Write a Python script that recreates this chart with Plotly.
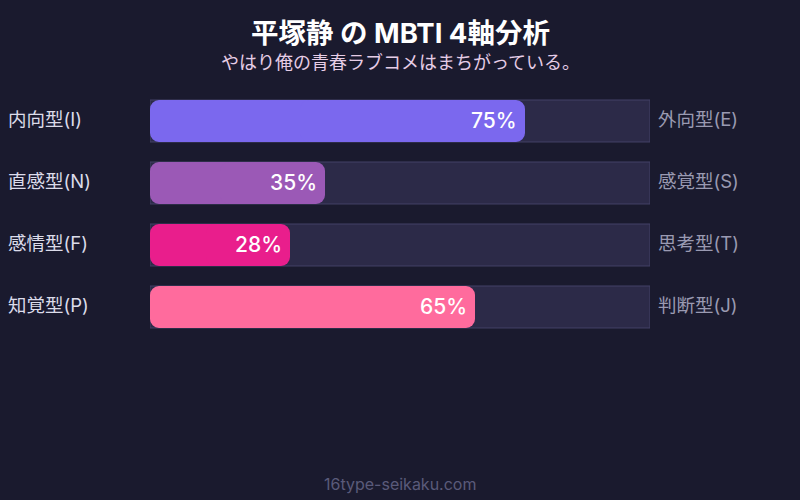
import plotly.graph_objects as go

left_labels = ["内向型(I)", "直感型(N)", "感情型(F)", "知覚型(P)"]
right_labels = ["外向型(E)", "感覚型(S)", "思考型(T)", "判断型(J)"]
values = [75, 35, 28, 65]
colors = ["#7b68ee", "#9b59b6", "#e91e8c", "#ff6b9d"]
title = "平塚静 の MBTI 4軸分析"
subtitle = "やはり俺の青春ラブコメはまちがっている。"
footer = "16type-seikaku.com"

FONT = "Inter, 'Noto Sans CJK JP', sans-serif"
BG = "#1a1a2e"
TRACK = "#2c2a48"
TRACK_LINE = "#434166"
W, H = 800, 500
ML, MR, MT, MB = 150, 150, 90, 162
plot_h = H - MT - MB
plot_w = W - ML - MR

ys = list(range(len(values)))
fig = go.Figure()

# track
fig.add_trace(go.Bar(
    y=ys, x=[100] * len(values), orientation="h", width=0.677,
    marker=dict(color=TRACK, line=dict(color=TRACK_LINE, width=1), cornerradius=0),
    hoverinfo="skip", showlegend=False,
))
# left rounded half
fig.add_trace(go.Bar(
    y=ys, x=[-v * 0.6 for v in values], base=[v * 0.6 for v in values],
    orientation="h", width=0.677,
    marker=dict(color=colors, line=dict(width=0), cornerradius=9),
    hoverinfo="skip", showlegend=False,
))
# right rounded half
fig.add_trace(go.Bar(
    y=ys, x=[v * 0.6 for v in values], base=[v * 0.4 for v in values],
    orientation="h", width=0.677,
    marker=dict(color=colors, line=dict(width=0), cornerradius=9),
    hoverinfo="skip", showlegend=False,
))

ann = []
for i, (l, r, v) in enumerate(zip(left_labels, right_labels, values)):
    ann.append(dict(x=-ML / plot_w, xref="paper", y=i, yref="y", text=l, showarrow=False,
                    xanchor="left", xshift=6, yshift=2,
                    font=dict(size=18.5, color="#dcdcea", family=FONT)))
    ann.append(dict(x=1, xref="paper", y=i, yref="y", text=r, showarrow=False,
                    xanchor="left", xshift=6, yshift=2,
                    font=dict(size=18.5, color="#9a9ab2", family=FONT)))
    ann.append(dict(x=v, xref="x", y=i, yref="y", text=f"{v}%", showarrow=False,
                    xanchor="right", xshift=-6, yshift=1,
                    font=dict(size=21, color="#ffffff", family=FONT, weight=500)))

ann.append(dict(x=0.5, xref="paper", y=(H - MB - 33) / plot_h, yref="paper", text=title,
                showarrow=False, xanchor="center", yanchor="middle",
                font=dict(size=27.5, color="#ffffff", family=FONT, weight=700)))
ann.append(dict(x=0.5, xref="paper", y=(H - MB - 62) / plot_h, yref="paper", text=subtitle,
                showarrow=False, xanchor="center", yanchor="middle",
                font=dict(size=18, color="#e6cde6", family=FONT)))
ann.append(dict(x=0.5, xref="paper", y=(H - MB - 484) / plot_h, yref="paper", text=footer,
                showarrow=False, xanchor="center", yanchor="middle",
                font=dict(size=16, color="#5a5a7a", family=FONT)))

fig.update_layout(
    width=W, height=H, paper_bgcolor=BG, plot_bgcolor=BG,
    margin=dict(l=ML, r=MR, t=MT, b=MB),
    barmode="overlay",
    xaxis=dict(range=[0, 100], visible=False, fixedrange=True),
    yaxis=dict(range=[len(values) - 0.5, -0.5], visible=False, fixedrange=True),
    annotations=ann, showlegend=False,
)
fig.write_html("out.html", config={"displayModeBar": False},
               post_script="document.body.style.margin='0';document.body.style.background='#1a1a2e';")
